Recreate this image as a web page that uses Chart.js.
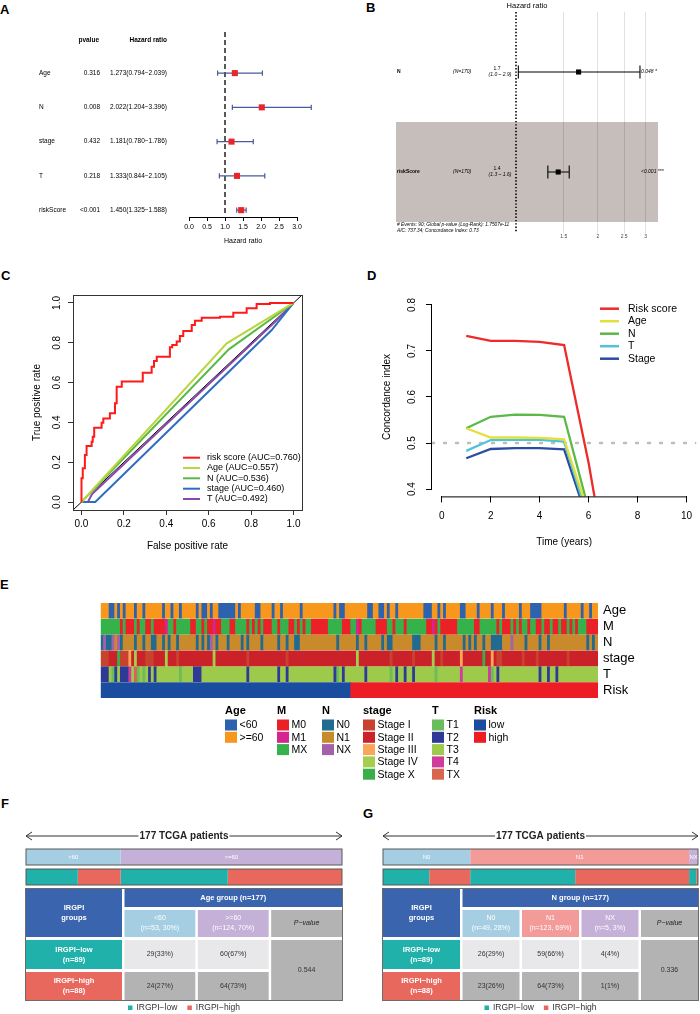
<!DOCTYPE html>
<html><head><meta charset="utf-8">
<script src="https://cdn.jsdelivr.net/npm/chart.js@4.4.1/dist/chart.umd.min.js"></script>
<style>
html,body{margin:0;padding:0;background:#fff}
body{position:relative;width:700px;height:1014px;overflow:hidden;font-family:'Liberation Sans',Arial,sans-serif}
canvas{position:absolute;display:block}
.pl{position:absolute;font-weight:bold;font-size:13px;line-height:13px;color:#000}
</style></head><body>
<div class="pl" style="left:0px;top:3px">A</div>
<div class="pl" style="left:366px;top:1px">B</div>
<div class="pl" style="left:1px;top:269px">C</div>
<div class="pl" style="left:367px;top:269px">D</div>
<div class="pl" style="left:0px;top:578px">E</div>
<div class="pl" style="left:1px;top:797px">F</div>
<div class="pl" style="left:363px;top:807px">G</div>
<canvas id="cA" width="350" height="250" style="left:0;top:0"></canvas>
<canvas id="cB" width="350" height="245" style="left:350px;top:0"></canvas>
<canvas id="cC" width="350" height="305" style="left:0;top:255px"></canvas>
<canvas id="cD" width="350" height="305" style="left:350px;top:255px"></canvas>
<canvas id="cE" width="700" height="200" style="left:0;top:590px"></canvas>
<canvas id="cF" width="350" height="189" style="left:0;top:825px"></canvas>
<canvas id="cG" width="350" height="189" style="left:350px;top:825px"></canvas>
<script>
// ---------------- DATA ----------------
// Panel A (univariate Cox)
const forestVars = ['Age','N','stage','T','riskScore'];
const forestPval = ['0.316','0.008','0.432','0.218','<0.001'];
const forestHR = [1.273, 2.022, 1.181, 1.333, 1.450];
const forestLow = [0.794, 1.204, 0.780, 0.844, 1.325];
const forestHigh = [2.039, 3.396, 1.786, 2.105, 1.588];
const forestTicks = [0, 0.5, 1, 1.5, 2, 2.5, 3];
// Panel B (multivariate Cox)
const coxVars = ['N','riskScore'];
const coxNlab = ['(N=170)','(N=170)'];
const coxHR = [1.70, 1.43];
const coxLow = [1.02, 1.31];
const coxHigh = [2.86, 1.57];
const coxPlab = ['0.048 *','<0.001 ***'];
const coxTicks = [1.5, 2, 2.5, 3];
const coxNote = ['# Events: 90; Global p-value (Log-Rank): 1.7507e-11','AIC: 737.34; Concordance Index: 0.73'];
// Panel C (ROC)
const rocLabels = ['risk score (AUC=0.760)','Age (AUC=0.557)','N (AUC=0.536)','stage (AUC=0.460)','T (AUC=0.492)'];
const rocRiskFpr = [0,0,0.006,0.006,0.016,0.016,0.024,0.024,0.048,0.048,0.053,0.053,0.06,0.06,0.095,0.095,0.103,0.103,0.134,0.134,0.158,0.158,0.166,0.166,0.19,0.19,0.289,0.289,0.331,0.331,0.342,0.342,0.355,0.355,0.417,0.417,0.428,0.428,0.449,0.449,0.464,0.464,0.48,0.48,0.52,0.52,0.535,0.535,0.567,0.567,0.653,0.653,0.716,0.716,0.779,0.779,0.826,0.826,0.889,0.889,1];
const rocRiskTpr = [0,0.12,0.12,0.17,0.17,0.236,0.236,0.281,0.281,0.303,0.303,0.328,0.328,0.373,0.373,0.398,0.398,0.42,0.42,0.446,0.446,0.496,0.496,0.579,0.579,0.605,0.605,0.65,0.65,0.68,0.68,0.708,0.708,0.73,0.73,0.777,0.777,0.789,0.789,0.806,0.806,0.834,0.834,0.859,0.859,0.889,0.889,0.911,0.911,0.926,0.926,0.931,0.931,0.951,0.951,0.973,0.973,0.995,0.995,1,1];
const rocAgeFpr = [0,0.685,1], rocAgeTpr = [0,0.797,1];
const rocNFpr = [0,0.695,1], rocNTpr = [0,0.767,1];
const rocStageFpr = [0,0.065,0.897,1], rocStageTpr = [0,0,0.864,1];
const rocTFpr = [0,0.03,0.05,0.913,1], rocTTpr = [0,0,0.04,0.905,1];
const rocDiag = [-0.04, 1.04];
// Panel D (C-index over time)
const cLabels = ['Risk score','Age','N','T','Stage'];
const cTime = [1,2,3,4,5,6,7];
const cRisk = [0.733,0.722,0.722,0.720,0.713,0.457,0.153];
const cAge = [0.532,0.512,0.512,0.511,0.508,0.347];
const cN = [0.532,0.557,0.5615,0.561,0.557,0.356];
const cT = [0.483,0.5065,0.507,0.507,0.503,0.333];
const cStage = [0.467,0.487,0.489,0.489,0.486,0.326];
const cRef = 0.5;
const cRefSpan = [-0.4, 10.4];
// Panel E (heatmap)
const nPatients = 177;
const riskLowN = 89;
const heatRowNames = ['Age','M','N','stage','T','Risk'];
const ageCats = ['<60','>=60'], ageCols = ['#2D62AE','#F7981D'];
const mCats = ['M0','M1','MX'], mCols = ['#EC2027','#D5258F','#35B34A'];
const nCats = ['N0','N1','NX'], nCols = ['#226B90','#C98A2B','#A560AA'];
const stageCats = ['Stage I','Stage II','Stage III','Stage IV','Stage X'], stageCols = ['#C8432D','#CB2128','#F9A65A','#A5CD4E','#39AE49'];
const tCats = ['T1','T2','T3','T4','TX'], tCols = ['#69BD5B','#2E3A96','#9DCA4B','#CE3D9C','#D96450'];
const riskCats = ['low','high'], riskCols = ['#1B4D9F','#EC1D25'];
const ageYoungIdx = [3,4,6,8,12,15,22,25,28,34,36,37,39,42,43,44,45,46,47,49,55,56,61,64,71,83,85,86,95,96,99,100,102,105,115,116,117,120,122,128,129,134,139,143,149,153,154,155,156,165,171,174];
const mM0Idx = [7,9,10,11,13,16,17,19,20,21,22,26,32,33,36,38,39,41,42,46,47,52,54,56,58,59,60,63,67,68,70,72,75,76,77,78,79,80,86,87,88,92,98,99,100,101,104,108,116,117,119,121,122,123,124,125,126,133,134,141,143,144,145,147,149,152,155,156,158,159,161,162,164,165,167,169,173,174,175,176];
const mM1Idx = [23,40,91,118];
const nN0Idx = [0,2,3,7,12,15,18,19,22,24,27,34,36,38,41,45,50,52,57,63,66,69,70,84,91,94,100,102,103,111,112,113,119,122,129,131,133,136,139,140,141,142,151,156,159,173,175];
const nNXIdx = [1,4,6,39,146];
const stageIIdx = [0,1,2,7,8,9,16,17,18,27,52,66,103,111,121,141,142,150,155,166];
const stageIIIIdx = [10,128,139];
const stageIVIdx = [12,23,40,91,118];
const stageXIdx = [6,136];
const tT1Idx = [4,13,15,28,84,103,119,139];
const tT2Idx = [0,1,2,5,7,8,9,17,19,33,34,35,52,63,66,83,86,94,105,108,111,141,156,159,162];
const tT4Idx = [10,128,138];
const tTXIdx = [12];
// Panels F, G
const cohortLabel = 'TCGA patients';
const riskNames = ['IRGPI\u2212low','IRGPI\u2212high'];
const fGroups = ['<60','>=60'], fGroupN = [53,124], fLowN = [29,60], fHighN = [24,64], fTitle = 'Age group', fPval = '0.544';
const gGroups = ['N0','N1','NX'], gGroupN = [49,123,5], gLowN = [26,59,4], gHighN = [23,64,1], gTitle = 'N group', gPval = '0.336';

// ---------------- SETUP ----------------
const FONT = "'Liberation Sans', Arial, Helvetica, sans-serif";
Chart.defaults.font.family = FONT;
Chart.defaults.color = '#000';
Chart.defaults.animation = false;
Chart.defaults.responsive = false;
Chart.defaults.maintainAspectRatio = false;
Chart.defaults.plugins.legend.display = false;
Chart.defaults.plugins.tooltip.enabled = false;
Chart.defaults.events = [];
const sum = a => a.reduce((p,c)=>p+c,0);
function fnt(size, style){ return (style ? style+' ' : '') + size + 'px ' + FONT; }
function txt(ctx, s, x, y, font, color, align, base){
  ctx.font = font; ctx.fillStyle = color || '#000'; ctx.textAlign = align || 'left'; ctx.textBaseline = base || 'middle'; ctx.fillText(s, x, y);
}

// ---------------- PANEL A ----------------
const forestPlugin = {
  id:'forestA',
  beforeDatasetsDraw(chart){
    const {ctx, chartArea:ca, scales:{x,y}} = chart;
    ctx.save();
    ctx.strokeStyle = '#000'; ctx.lineWidth = 1.3; ctx.setLineDash([5,3]);
    const x1 = x.getPixelForValue(1);
    ctx.beginPath(); ctx.moveTo(x1, ca.top); ctx.lineTo(x1, ca.bottom - 1); ctx.stroke();
    ctx.setLineDash([]);
    ctx.strokeStyle = '#4A5A9C'; ctx.lineWidth = 1.2;
    forestHR.forEach((v,i)=>{
      const yy = y.getPixelForValue(i+1), a = x.getPixelForValue(forestLow[i]), b = x.getPixelForValue(forestHigh[i]);
      ctx.beginPath(); ctx.moveTo(a,yy); ctx.lineTo(b,yy);
      ctx.moveTo(a,yy-2.6); ctx.lineTo(a,yy+2.6); ctx.moveTo(b,yy-2.6); ctx.lineTo(b,yy+2.6); ctx.stroke();
    });
    ctx.restore();
  },
  afterDraw(chart){
    const {ctx, scales:{y}} = chart;
    ctx.save();
    txt(ctx,'pvalue',99,40,fnt(6.5,'bold'),'#000','right');
    txt(ctx,'Hazard ratio',167,40,fnt(6.5,'bold'),'#000','right');
    forestVars.forEach((v,i)=>{
      const yy = y.getPixelForValue(i+1);
      txt(ctx, v, 39, yy, fnt(6.5), '#000', 'left');
      txt(ctx, forestPval[i], 100, yy, fnt(6.5), '#000', 'right');
      txt(ctx, forestHR[i].toFixed(3)+'('+forestLow[i].toFixed(3)+'\u2212'+forestHigh[i].toFixed(3)+')', 167, yy, fnt(6.5), '#000', 'right');
    });
    ctx.restore();
  }
};
new Chart(document.getElementById('cA'), {
  type:'scatter',
  data:{datasets:[{data: forestHR.map((v,i)=>({x:v, y:i+1})), pointStyle:'rect', pointRadius:4.3, backgroundColor:'#E8262A', borderWidth:0, clip:false}]},
  options:{
    layout:{padding:{left:189, right:53, top:32, bottom:0}},
    scales:{
      x:{type:'linear', min:0, max:3,
         afterBuildTicks:s=>{ s.ticks = forestTicks.map(v=>({value:v})); },
         ticks:{font:{size:7}, padding:1.5, color:'#000', callback:v=>Number(v).toFixed(1)},
         grid:{drawOnChartArea:false, drawTicks:true, tickLength:4, tickColor:'#000', tickWidth:1},
         border:{display:true, color:'#000', width:1},
         title:{display:true, text:'Hazard ratio', font:{size:7}, color:'#000', padding:{top:0, bottom:5}},
         afterFit:s=>{ s.height = 33; }},
      y:{type:'linear', min:-0.2, max:5.2, reverse:true, display:false}
    }
  },
  plugins:[forestPlugin]
});

// ---------------- PANEL B ----------------
const coxPlugin = {
  id:'coxB',
  beforeDraw(chart){
    const {ctx, chartArea:ca, scales:{y}} = chart;
    ctx.save();
    ctx.fillStyle = '#C6BEBB';
    const y0 = y.getPixelForValue(1), y1 = y.getPixelForValue(2);
    ctx.fillRect(46, y0, ca.right - 46, y1 - y0);
    ctx.restore();
  },
  beforeDatasetsDraw(chart){
    const {ctx, chartArea:ca, scales:{x,y}} = chart;
    ctx.save();
    const x1 = x.getPixelForValue(1);
    ctx.strokeStyle = '#000'; ctx.lineWidth = 1.6; ctx.setLineDash([1.4,1.9]);
    ctx.beginPath(); ctx.moveTo(x1, ca.top); ctx.lineTo(x1, ca.bottom); ctx.stroke();
    ctx.setLineDash([]);
    ctx.lineWidth = 1.1;
    coxHR.forEach((v,i)=>{
      const yy = y.getPixelForValue(i+0.5), a = x.getPixelForValue(coxLow[i]), b = x.getPixelForValue(coxHigh[i]);
      ctx.beginPath(); ctx.moveTo(a,yy); ctx.lineTo(b,yy);
      ctx.moveTo(a,yy-6.5); ctx.lineTo(a,yy+6.5); ctx.moveTo(b,yy-6.5); ctx.lineTo(b,yy+6.5); ctx.stroke();
    });
    ctx.restore();
  },
  afterDraw(chart){
    const {ctx, scales:{y}} = chart;
    ctx.save();
    txt(ctx,'Hazard ratio',177,6,fnt(7.5),'#000','center');
    coxVars.forEach((v,i)=>{
      const yy = y.getPixelForValue(i+0.5);
      txt(ctx, v, 47, yy, fnt(5,'bold'), '#000', 'left');
      txt(ctx, coxNlab[i], 103, yy, fnt(5,'italic'), '#000', 'left');
      txt(ctx, coxHR[i].toFixed(1), 147, yy-3, fnt(5), '#000', 'center');
      txt(ctx, '('+coxLow[i].toFixed(1)+' \u2013 '+coxHigh[i].toFixed(1)+')', 150, yy+3, fnt(5,'italic'), '#000', 'center');
      txt(ctx, coxPlab[i], 291, yy, fnt(5,'italic'), '#000', 'left');
    });
    txt(ctx, coxNote[0], 47, 225, fnt(4.8,'italic'), '#000', 'left');
    txt(ctx, coxNote[1], 47, 231, fnt(4.8,'italic'), '#000', 'left');
    ctx.restore();
  }
};
new Chart(document.getElementById('cB'), {
  type:'scatter',
  data:{datasets:[{data: coxHR.map((v,i)=>({x:v, y:i+0.5})), pointStyle:'rect', pointRadius:3.6, backgroundColor:'#000', borderWidth:0, clip:false}]},
  options:{
    layout:{padding:{left:166, right:42, top:12, bottom:0}},
    scales:{
      x:{type:'logarithmic', min:1, max:3.332,
         afterBuildTicks:s=>{ s.ticks = coxTicks.map(v=>({value:v})); },
         ticks:{font:{size:5}, color:'#444', padding:0.5, callback:v=>String(v), autoSkip:false, maxRotation:0},
         grid:{color:'rgba(0,0,0,0.15)', lineWidth:0.8, drawTicks:true, tickLength:1.5},
         border:{display:false},
         afterFit:s=>{ s.height = 13; }},
      y:{type:'linear', min:-0.1, max:2.1, reverse:true, display:false}
    }
  },
  plugins:[coxPlugin]
});

// ---------------- PANEL C ----------------
const rocSeries = [
  {label:rocLabels[0], fpr:rocRiskFpr, tpr:rocRiskTpr, color:'#FF1A1A'},
  {label:rocLabels[1], fpr:rocAgeFpr, tpr:rocAgeTpr, color:'#B8D63E'},
  {label:rocLabels[2], fpr:rocNFpr, tpr:rocNTpr, color:'#5BB947'},
  {label:rocLabels[3], fpr:rocStageFpr, tpr:rocStageTpr, color:'#2E6DC0'},
  {label:rocLabels[4], fpr:rocTFpr, tpr:rocTTpr, color:'#8C45AA'}
];
const rocPlugin = {
  id:'rocC',
  afterDraw(chart){
    const {ctx, chartArea:ca} = chart;
    ctx.save();
    ctx.strokeStyle = '#333'; ctx.lineWidth = 1;
    ctx.strokeRect(Math.round(ca.left)+0.5, Math.round(ca.top)+0.5, Math.round(ca.right-ca.left), Math.round(ca.bottom-ca.top));
    const rows = [202.7,213,223.3,233.7,244];
    rocSeries.forEach((s,i)=>{
      ctx.strokeStyle = s.color; ctx.lineWidth = 2;
      ctx.beginPath(); ctx.moveTo(183, rows[i]); ctx.lineTo(200, rows[i]); ctx.stroke();
      txt(ctx, s.label, 207, rows[i], fnt(9), '#000', 'left');
    });
    ctx.restore();
  }
};
new Chart(document.getElementById('cC'), {
  type:'scatter',
  data:{datasets: rocSeries.map(s=>({label:s.label, data:s.fpr.map((v,i)=>({x:v, y:s.tpr[i]})), showLine:true, borderColor:s.color, borderWidth:2, pointRadius:0, tension:0, fill:false}))
    .concat([{label:'diag', data: rocDiag.map(v=>({x:v, y:v})), showLine:true, borderColor:'#000', borderWidth:1, pointRadius:0}])},
  options:{
    layout:{padding:{left:0, right:48, top:40, bottom:0}},
    scales:{
      x:{type:'linear', min:-0.04, max:1.04,
         ticks:{stepSize:0.2, includeBounds:false, font:{size:10}, padding:3, color:'#000', callback:v=>Number(v).toFixed(1), maxRotation:0},
         grid:{drawOnChartArea:false, drawTicks:true, tickLength:5, tickColor:'#333'},
         border:{display:false},
         title:{display:true, text:'False positive rate', font:{size:10}, color:'#000', padding:{top:0, bottom:8}},
         afterFit:s=>{ s.height = 50; }},
      y:{type:'linear', min:-0.04, max:1.04,
         ticks:{stepSize:0.2, includeBounds:false, font:{size:10}, padding:4, color:'#000', minRotation:90, maxRotation:90, crossAlign:'center', callback:v=>Number(v).toFixed(1)},
         grid:{drawOnChartArea:false, drawTicks:true, tickLength:5, tickColor:'#333'},
         border:{display:false},
         title:{display:true, text:'True positive rate', font:{size:10}, color:'#000', padding:{top:31, bottom:0}},
         afterFit:s=>{ s.width = 73; }}
    }
  },
  plugins:[rocPlugin]
});

// ---------------- PANEL D ----------------
const cSeries = [
  {label:cLabels[0], vals:cRisk, color:'#EE2A2A'},
  {label:cLabels[1], vals:cAge, color:'#E3DF3B'},
  {label:cLabels[2], vals:cN, color:'#5BB947'},
  {label:cLabels[3], vals:cT, color:'#50C4D6'},
  {label:cLabels[4], vals:cStage, color:'#2B4DA0'}
];
const cPlugin = {
  id:'cindexD',
  afterDraw(chart){
    const {ctx, chartArea:ca, scales:{x,y}} = chart;
    ctx.save();
    ctx.strokeStyle = '#000'; ctx.lineWidth = 1;
    const xt = x.ticks, yt = y.ticks;
    ctx.beginPath();
    ctx.moveTo(x.getPixelForValue(xt[0].value), ca.bottom+0.5); ctx.lineTo(x.getPixelForValue(xt[xt.length-1].value), ca.bottom+0.5);
    ctx.moveTo(ca.left-0.5, y.getPixelForValue(yt[0].value)); ctx.lineTo(ca.left-0.5, y.getPixelForValue(yt[yt.length-1].value));
    ctx.stroke();
    const rows = [53.7,66.2,78.7,91.2,103.7];
    cSeries.forEach((s,i)=>{
      ctx.strokeStyle = s.color; ctx.lineWidth = 2.5;
      ctx.beginPath(); ctx.moveTo(250, rows[i]); ctx.lineTo(269, rows[i]); ctx.stroke();
      txt(ctx, s.label, 278, rows[i], fnt(10.5), '#000', 'left');
    });
    ctx.restore();
  }
};
new Chart(document.getElementById('cD'), {
  type:'scatter',
  data:{datasets: cSeries.map(s=>({label:s.label, data:s.vals.map((v,i)=>({x:cTime[i], y:v})), showLine:true, borderColor:s.color, borderWidth:2.3, pointRadius:0, tension:0}))
    .concat([{label:'ref', data:cRefSpan.map(t=>({x:t, y:cRef})), showLine:true, borderColor:'#BDBDBD', borderWidth:2.4, borderDash:[2,10], borderCapStyle:'round', pointRadius:0}])},
  options:{
    layout:{padding:{left:0, right:0, top:42.6, bottom:0}},
    scales:{
      x:{type:'linear', min:-0.4, max:10.4,
         ticks:{stepSize:2, includeBounds:false, font:{size:10}, padding:8, color:'#000', callback:v=>String(v), maxRotation:0},
         grid:{drawOnChartArea:false, drawTicks:true, tickLength:6, tickColor:'#000'},
         border:{display:false},
         title:{display:true, text:'Time (years)', font:{size:10}, color:'#000', padding:{top:0, bottom:12}},
         afterFit:s=>{ s.height = 63.6; }},
      y:{type:'linear', min:0.384, max:0.816,
         ticks:{stepSize:0.1, includeBounds:false, font:{size:10}, padding:7, color:'#000', minRotation:90, maxRotation:90, crossAlign:'center', callback:v=>Number(v).toFixed(1)},
         grid:{drawOnChartArea:false, drawTicks:true, tickLength:6, tickColor:'#000'},
         border:{display:false},
         title:{display:true, text:'Concordance index', font:{size:10}, color:'#000', padding:{top:31, bottom:0}},
         afterFit:s=>{ s.width = 82; }}
    }
  },
  plugins:[cPlugin]
});

// ---------------- PANEL E ----------------
function catRow(defCat, pairs){
  const r = new Array(nPatients).fill(defCat);
  pairs.forEach(([cat, idx])=> idx.forEach(i=>{ r[i] = cat; }));
  return r;
}
const heatRows = [
  {name:heatRowNames[0], vals:catRow('>=60', [['<60', ageYoungIdx]]), cats:ageCats, cols:ageCols},
  {name:heatRowNames[1], vals:catRow('MX', [['M0', mM0Idx],['M1', mM1Idx]]), cats:mCats, cols:mCols},
  {name:heatRowNames[2], vals:catRow('N1', [['N0', nN0Idx],['NX', nNXIdx]]), cats:nCats, cols:nCols},
  {name:heatRowNames[3], vals:catRow('Stage II', [['Stage I', stageIIdx],['Stage III', stageIIIIdx],['Stage IV', stageIVIdx],['Stage X', stageXIdx]]), cats:stageCats, cols:stageCols},
  {name:heatRowNames[4], vals:catRow('T3', [['T1', tT1Idx],['T2', tT2Idx],['T4', tT4Idx],['TX', tTXIdx]]), cats:tCats, cols:tCols},
  {name:heatRowNames[5], vals:Array.from({length:nPatients}, (_,i)=> i < riskLowN ? 'low' : 'high'), cats:riskCats, cols:riskCols}
];
function runs(vals){
  const out = []; let s = 0;
  for (let i = 1; i <= vals.length; i++){
    if (i === vals.length || vals[i] !== vals[s]) { out.push({s:s, e:i, c:vals[s]}); s = i; }
  }
  return out;
}
const heatLegend = [
  {title:'Age', cats:ageCats, cols:ageCols, x:225},
  {title:'M', cats:mCats, cols:mCols, x:277},
  {title:'N', cats:nCats, cols:nCols, x:322},
  {title:'stage', cats:stageCats, cols:stageCols, x:363},
  {title:'T', cats:tCats, cols:tCols, x:432},
  {title:'Risk', cats:riskCats, cols:riskCols, x:474}
];
const heatLegendPlugin = {
  id:'heatLeg',
  afterDraw(chart){
    const ctx = chart.ctx;
    ctx.save();
    heatLegend.forEach(g=>{
      txt(ctx, g.title, g.x, 121, fnt(11,'bold'), '#000', 'left');
      g.cats.forEach((c,k)=>{
        const yy = 135 + k*12.3;
        ctx.fillStyle = g.cols[k]; ctx.fillRect(g.x, yy-5.5, 12, 11);
        txt(ctx, c, g.x+14.5, yy+0.5, fnt(10.5), '#000', 'left');
      });
    });
    ctx.restore();
  }
};
new Chart(document.getElementById('cE'), {
  type:'bar',
  data:{labels: heatRowNames, datasets: heatRows.map(r=>{
    const rr = runs(r.vals);
    return {label:r.name, data: rr.map(q=>({y:r.name, x:[q.s, q.e]})), backgroundColor: rr.map(q=> r.cols[r.cats.indexOf(q.c)]),
      borderWidth:0, grouped:false, categoryPercentage:0.94, barPercentage:1, inflateAmount:0.4};
  })},
  options:{
    indexAxis:'y',
    layout:{padding:{left:100.7, right:0, top:9, bottom:92}},
    scales:{
      x:{type:'linear', min:0, max:nPatients, display:false},
      y:{type:'category', position:'right', grid:{display:false, drawTicks:false}, border:{display:false},
         ticks:{font:{size:13}, color:'#000', padding:5, autoSkip:false}, afterFit:s=>{ s.width = 102; }}
    }
  },
  plugins:[heatLegendPlugin]
});

// ---------------- PANELS F, G ----------------
const COL_TEAL = '#1FB1AA', COL_SALMON = '#E8685E', COL_NAVY = '#3A64AE', COL_GRAY = '#B3B3B3', COL_LIGHT = '#E8E8EA';
function tablePlugin(cfg){
  return {
    id:'tbl'+cfg.key,
    afterDraw(chart){
      const {ctx, scales:{x,y}} = chart;
      const total = sum(cfg.groupN), lowT = sum(cfg.lowN), highT = sum(cfg.highN);
      const L = x.getPixelForValue(0), R = x.getPixelForValue(total);
      ctx.save();
      [0,1].forEach(k=>{
        const yc = y.getPixelForValue(k);
        ctx.strokeStyle = '#595959'; ctx.lineWidth = 1;
        ctx.strokeRect(L, yc-8, R-L, 16);
      });
      let c = 0;
      const yg = y.getPixelForValue(0);
      cfg.groups.forEach((g,i)=>{
        const cx = x.getPixelForValue(c + cfg.groupN[i]/2);
        txt(ctx, g, cx, yg+0.5, fnt(6), '#fff', 'center');
        c += cfg.groupN[i];
      });
      const ay = 11;
      ctx.strokeStyle = '#333'; ctx.lineWidth = 1;
      ctx.beginPath(); ctx.moveTo(L, ay); ctx.lineTo(R, ay);
      ctx.moveTo(L+6, ay-4); ctx.lineTo(L, ay); ctx.lineTo(L+6, ay+4);
      ctx.moveTo(R-6, ay-4); ctx.lineTo(R, ay); ctx.lineTo(R-6, ay+4); ctx.stroke();
      const title = total + ' ' + cohortLabel;
      ctx.font = fnt(10,'bold'); const tw = ctx.measureText(title).width;
      ctx.fillStyle = '#fff'; ctx.fillRect((L+R)/2 - tw/2 - 1, ay-6, tw+2, 12);
      txt(ctx, title, (L+R)/2, ay+0.5, fnt(10,'bold'), '#222', 'center');
      const T0=64, H1=82, S0=85, S1=112, A0=115, A1=144, B0=147, B1=175, gap=2.5;
      const lw = cfg.leftW;
      const rx0 = L + lw + gap;
      const ncol = cfg.groups.length + 1;
      const cw = (R - rx0 - gap*(ncol-1)) / ncol;
      const rect = (x0,y0,w,h,col)=>{ ctx.fillStyle = col; ctx.fillRect(x0,y0,w,h); };
      const two = (a,b,cx,cy,font,col)=>{ txt(ctx,a,cx,cy-5,font,col,'center'); txt(ctx,b,cx,cy+5,font,col,'center'); };
      rect(L, T0, lw, S1-T0, COL_NAVY); two('IRGPI','groups', L+lw/2, (T0+S1)/2, fnt(7.5,'bold'), '#fff');
      rect(L, A0, lw, A1-A0, COL_TEAL); two(riskNames[0], '(n='+lowT+')', L+lw/2, (A0+A1)/2, fnt(7.5,'bold'), '#fff');
      rect(L, B0, lw, B1-B0, COL_SALMON); two(riskNames[1], '(n='+highT+')', L+lw/2, (B0+B1)/2, fnt(7.5,'bold'), '#fff');
      rect(rx0, T0, R-rx0, H1-T0, COL_NAVY);
      txt(ctx, cfg.title+' (n='+total+')', (rx0+R)/2, (T0+H1)/2, fnt(7.5,'bold'), '#fff', 'center');
      cfg.groups.forEach((g,i)=>{
        const cx = rx0 + i*(cw+gap);
        rect(cx, S0, cw, S1-S0, cfg.groupCols[i]);
        two(g, '(n='+cfg.groupN[i]+', '+Math.round(cfg.groupN[i]/total*100)+'%)', cx+cw/2, (S0+S1)/2, fnt(7), '#fff');
        rect(cx, A0, cw, A1-A0, COL_LIGHT);
        txt(ctx, cfg.lowN[i]+'('+Math.round(cfg.lowN[i]/lowT*100)+'%)', cx+cw/2, (A0+A1)/2, fnt(7), '#333', 'center');
        rect(cx, B0, cw, B1-B0, COL_GRAY);
        txt(ctx, cfg.highN[i]+'('+Math.round(cfg.highN[i]/highT*100)+'%)', cx+cw/2, (B0+B1)/2, fnt(7), '#333', 'center');
      });
      const px = rx0 + cfg.groups.length*(cw+gap);
      rect(px, S0, cw, S1-S0, COL_GRAY);
      txt(ctx, 'P\u2212value', px+cw/2, (S0+S1)/2, fnt(7,'italic'), '#222', 'center');
      rect(px, A0, cw, B1-A0, COL_GRAY);
      txt(ctx, cfg.pval, px+cw/2, (A0+B1)/2, fnt(7), '#333', 'center');
      ctx.strokeStyle = '#6B6B6B'; ctx.lineWidth = 1;
      ctx.strokeRect(L-0.5, T0-0.5, R-L+1, B1-T0+1);
      ctx.font = fnt(8.5);
      const w1 = ctx.measureText(riskNames[0]).width, w2 = ctx.measureText(riskNames[1]).width;
      const totW = 4.5 + 4 + w1 + 10 + 4.5 + 4 + w2;
      let lx = (L+R)/2 - totW/2; const ly = 183;
      rect(lx, ly-2.5, 4.5, 4.5, COL_TEAL); lx += 8.5;
      txt(ctx, riskNames[0], lx, ly, fnt(8.5), '#333', 'left'); lx += w1 + 10;
      rect(lx, ly-2.5, 4.5, 4.5, COL_SALMON); lx += 8.5;
      txt(ctx, riskNames[1], lx, ly, fnt(8.5), '#333', 'left');
      ctx.restore();
    }
  };
}
function groupPanel(id, cfg){
  const total = sum(cfg.groupN);
  const ds = [];
  let c = 0;
  cfg.groupN.forEach((n,i)=>{ ds.push({data:[{y:'grp', x:[c, c+n]}], backgroundColor:cfg.groupCols[i]}); c += n; });
  c = 0;
  cfg.groupN.forEach((n,i)=>{
    ds.push({data:[{y:'risk', x:[c, c+cfg.lowN[i]]}], backgroundColor:COL_TEAL});
    ds.push({data:[{y:'risk', x:[c+cfg.lowN[i], c+n]}], backgroundColor:COL_SALMON});
    c += n;
  });
  new Chart(document.getElementById(id), {
    type:'bar',
    data:{labels:['grp','risk'], datasets: ds.map(d=>Object.assign(d, {grouped:false, borderWidth:0, categoryPercentage:0.8, barPercentage:1}))},
    options:{
      indexAxis:'y',
      layout:{padding:{left:cfg.padL, right:cfg.padR, top:22, bottom:127}},
      scales:{x:{type:'linear', min:0, max:total, display:false}, y:{type:'category', display:false}}
    },
    plugins:[tablePlugin(cfg)]
  });
}
groupPanel('cF', {key:'F', groups:fGroups, groupN:fGroupN, lowN:fLowN, highN:fHighN, title:fTitle, pval:fPval,
  groupCols:['#A6CEE3','#C5B0D8'], leftW:96, padL:26, padR:8});
groupPanel('cG', {key:'G', groups:gGroups, groupN:gGroupN, lowN:gLowN, highN:gHighN, title:gTitle, pval:gPval,
  groupCols:['#A6CEE3','#F29B98','#C5B0D8'], leftW:77, padL:33, padR:2});
</script>
</body></html>
